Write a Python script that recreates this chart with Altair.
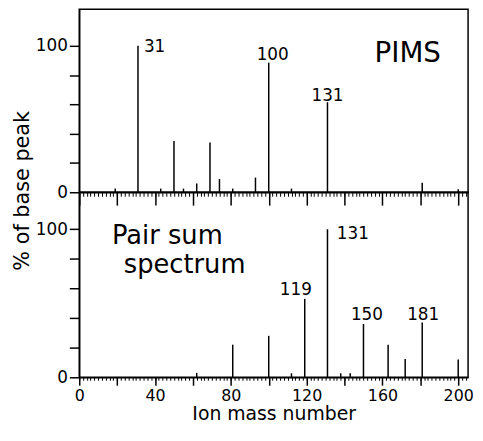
import altair as alt
import pandas as pd

# ---- data ----
pims_mass = [19, 31, 43, 50, 55, 62, 69, 74, 81, 93, 100, 112, 131, 181, 200]
pims_pct = [2.5, 100, 2.5, 35, 2.5, 6, 34, 9, 2.5, 10, 88.5, 2.5, 61.5, 6.5, 2]
pair_mass = [62, 81, 100, 112, 119, 131, 138, 143, 150, 163, 172, 181, 200]
pair_pct = [3, 22, 28, 2.7, 53, 100, 2.7, 2.7, 36, 22, 12.3, 37, 12]
pims_labels = [31, 100, 131]
pair_labels = [119, 131, 150, 181]
top_caption = ["PIMS"]
bottom_caption = ["Pair sum", "spectrum"]
x_major = list(range(0, 201, 20))
x_minor = list(range(0, 205, 2))
y_ticks = [0, 20, 40, 60, 80, 100]

FONT = "DejaVu Sans"
W, H1, H2 = 393, 185, 187
XMAX, YMAX = 205.2, 125

pims = pd.DataFrame({"mass": pims_mass, "pct": pims_pct})
pims["label"] = pims["mass"].astype(str)
pair = pd.DataFrame({"mass": pair_mass, "pct": pair_pct})
pair["label"] = pair["mass"].astype(str)

xscale = alt.Scale(domain=[0, XMAX], nice=False, zero=False)
yscale = alt.Scale(domain=[0, YMAX], nice=False)


def x_major_axis(size, labels):
    kw = dict(orient="bottom", values=x_major, tickSize=size, tickWidth=1.5, domainWidth=1.5,
              labelFlush=False, labelOverlap=False, labelBound=False)
    if labels:
        kw.update(labelExpr="datum.value % 40 === 0 ? datum.label : ''", labelFontSize=16,
                  labelPadding=2, title="Ion mass number", titleFontSize=19, titlePadding=2)
    else:
        kw.update(labels=False, title=None)
    return alt.Axis(**kw)


def x_minor_axis(size):
    return alt.Axis(orient="bottom", values=x_minor, tickSize=size, tickWidth=1, domain=False,
                    labels=False, title=None)


def y_axis(with_title):
    kw = dict(
        values=y_ticks, tickSize=10, tickWidth=1.5, domainWidth=1.5,
        labelExpr="datum.value === 0 || datum.value === 100 ? datum.label : ''",
        labelFontSize=17, labelPadding=2, labelOverlap=False,
    )
    if with_title:
        kw.update(title="% of base peak", titleFontSize=21, titleAngle=270, titleX=-51,
                  titleY=183, titleAlign="center", titleBaseline="alphabetic")
    else:
        kw.update(title=None)
    return alt.Axis(**kw)


def label_layer(df, mass, dx, dy, align, yaxis, xaxis=None):
    return (
        alt.Chart(df)
        .transform_filter(alt.datum.mass == mass)
        .mark_text(dx=dx, dy=dy, align=align, baseline="middle", font=FONT, fontSize=17, color="black")
        .encode(
            x=alt.X("mass:Q", scale=xscale, axis=xaxis),
            y=alt.Y("pct:Q", scale=yscale, axis=yaxis),
            text="label:N",
        )
    )


def caption(text, x, y, size):
    return alt.Chart(pd.DataFrame({"t": [text]})).mark_text(
        x=x, y=y, align="center", baseline="alphabetic", font=FONT, fontSize=size, color="black"
    ).encode(text="t:N")


def panel(df, height, xaxis, yaxis, extra):
    rules = (
        alt.Chart(df)
        .mark_rule(strokeWidth=1.5, color="black")
        .encode(
            x=alt.X("mass:Q", scale=xscale, axis=xaxis),
            y=alt.Y("pct:Q", scale=yscale, axis=yaxis),
            y2=alt.datum(0),
        )
    )
    return (
        alt.layer(rules, *extra)
        .resolve_axis(x="independent")
        .properties(width=W, height=height)
    )


ya_top = y_axis(True)
ya_bot = y_axis(False)

top = panel(
    pims, H1, x_major_axis(13, False), ya_top,
    [
        label_layer(pims, pims_labels[0], 6, 1.5, "left", ya_top, x_minor_axis(4)),
        label_layer(pims, pims_labels[1], 4, -7.5, "center", ya_top),
        label_layer(pims, pims_labels[2], 0, -6.5, "center", ya_top),
        caption(top_caption[0], 332, 53, 28),
    ],
)
bottom = panel(
    pair, H2, x_major_axis(8, True), ya_bot,
    [
        label_layer(pair, pair_labels[0], -9, -8.5, "center", ya_bot, x_minor_axis(3)),
        label_layer(pair, pair_labels[1], 9.5, 5, "left", ya_bot),
        label_layer(pair, pair_labels[2], 3.5, -9.5, "center", ya_bot),
        label_layer(pair, pair_labels[3], 1, -8, "center", ya_bot),
        caption(bottom_caption[0], 89, 52, 26),
        caption(bottom_caption[1], 106.5, 82, 26),
    ],
)

chart = (
    alt.vconcat(top, bottom, spacing=0, bounds="flush")
    .properties(padding={"left": 3, "top": -2, "right": 0, "bottom": -2})
    .configure_view(stroke="black", strokeWidth=1.5)
    .configure_axis(
        labelFont=FONT, titleFont=FONT, domainColor="black", tickColor="black",
        labelColor="black", titleColor="black", grid=False, titleFontWeight="normal",
    )
)

chart.save("out.html", embed_options={"renderer": "svg", "actions": False})
